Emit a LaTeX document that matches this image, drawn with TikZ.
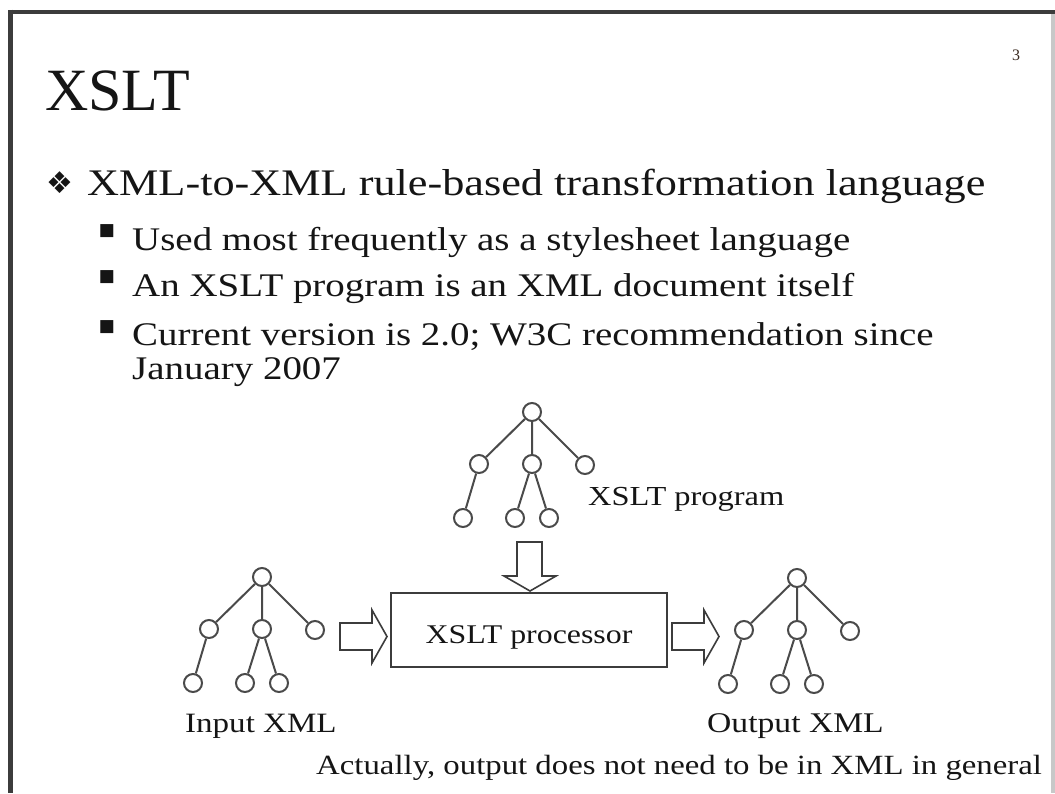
\documentclass[tikz,border=0pt]{standalone}
\usepackage{fontspec}
\usepackage{graphicx}
\setmainfont{Liberation Serif}
\newfontfamily\symf{DejaVu Sans}
\usetikzlibrary{calc}
\definecolor{ink}{HTML}{151515}
\definecolor{lg}{HTML}{4A4A4A}
\definecolor{framec}{HTML}{3C3C3C}
\definecolor{rframe}{HTML}{C8C8C8}
\definecolor{pgc}{HTML}{3A2A20}
\newcommand\wx[1]{\scalebox{1.18}[1]{#1}}
\newcommand\xtree[3]{%
 \begin{scope}[shift={(#2,#3)}]
  \node[tc] (#1r) at (0,0) {};
  \node[tc] (#1a) at (-53,52) {};
  \node[tc] (#1b) at (0,52) {};
  \node[tc] (#1c) at (53,53) {};
  \node[tc] (#1d) at (-69,106) {};
  \node[tc] (#1e) at (-17,106) {};
  \node[tc] (#1f) at (17,106) {};
 \end{scope}
 \draw[edge] (#1r)--(#1a) (#1r)--(#1b) (#1r)--(#1c) (#1a)--(#1d) (#1b)--(#1e) (#1b)--(#1f);
}
\begin{document}
\begin{tikzpicture}[x=1pt,y=-1pt,
  tc/.style={circle,draw=lg,line width=2pt,fill=white,minimum size=18pt,inner sep=0pt},
  edge/.style={draw=lg,line width=2pt},
  txt/.style={anchor=base west,inner sep=0pt,text=ink},
  barrow/.style={draw=framec,line width=1.6pt,fill=white,line join=miter},
  procbox/.style={draw=framec,line width=2.5pt,fill=white,minimum width=276pt,minimum height=74pt,inner sep=0pt,text height=30pt,text depth=4pt,text=ink,font=\fontsize{27}{29}\selectfont},
  sym/.style={inner sep=0pt,text=ink,font=\symf}]
\useasboundingbox (0,0) rectangle (1055,793);
\fill[white] (0,0) rectangle (1055,793);
\clip (0,0) rectangle (1055,793);

% title and page number
\node[txt,font=\fontsize{60}{66}\selectfont] (title) at (45,110) {XSLT};
\node[txt,font=\fontsize{16}{17}\selectfont,text=pgc] (pg) at (1012,60) {3};

% bullets
\node[sym,font=\symf\fontsize{30}{32}\selectfont] (d1) at (60,183) {❖};
\node[txt,font=\fontsize{37.5}{40}\selectfont] (b1) at (87,195) {\wx{XML-to-XML rule-based transformation language}};
\node[sym,font=\symf\fontsize{17}{19}\selectfont] (s1) at (107,231) {■};
\node[txt,font=\fontsize{33}{35}\selectfont] (b2) at (132,250) {\wx{Used most frequently as a stylesheet language}};
\node[sym,font=\symf\fontsize{17}{19}\selectfont] (s2) at (107,277) {■};
\node[txt,font=\fontsize{33}{35}\selectfont] (b3) at (132,296) {\wx{An XSLT program is an XML document itself}};
\node[sym,font=\symf\fontsize{17}{19}\selectfont] (s3) at (107,327) {■};
\node[txt,font=\fontsize{33}{35}\selectfont] (b4) at (132,345) {\wx{Current version is 2.0; W3C recommendation since}};
\node[txt,font=\fontsize{33}{35}\selectfont] (b5) at (132,379) {\wx{January 2007}};

% trees
\xtree{p}{532}{412}
\xtree{i}{262}{577}
\xtree{o}{797}{578}

% processor box
\node[procbox] (proc) at (529,630) {\wx{XSLT processor}};

% block arrows
\draw[barrow] (340,623) -- (372,623) -- (372,610) -- (387,636.5) -- (372,663) -- (372,650) -- (340,650) -- cycle;
\draw[barrow] (672,623) -- (704,623) -- (704,610) -- (719,636.5) -- (704,663) -- (704,650) -- (672,650) -- cycle;
\draw[barrow] (517,542) -- (542,542) -- (542,576) -- (556,576) -- (530,591) -- (504,576) -- (517,576) -- cycle;

% labels
\node[txt,font=\fontsize{27.5}{29}\selectfont] (lp) at (588,505) {\wx{XSLT program}};
\node[txt,font=\fontsize{28}{30}\selectfont] (li) at (185,732) {\wx{Input XML}};
\node[txt,font=\fontsize{28.5}{30}\selectfont] (lo) at (707,732) {\wx{Output XML}};
\node[txt,font=\fontsize{27.8}{30}\selectfont] (note) at (316,774) {\wx{Actually, output does not need to be in XML in general}};

% slide frame
\draw[framec,line width=4pt] (8,11.5) -- (1055,11.5);
\draw[framec,line width=4.5pt] (10.5,9.5) -- (10.5,793);
\draw[rframe,line width=4pt] (1053,13.5) -- (1053,793);
\end{tikzpicture}
\end{document}
